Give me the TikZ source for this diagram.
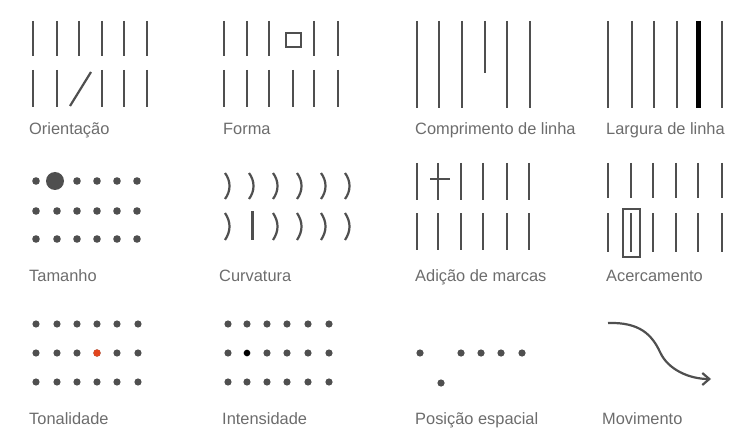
\documentclass[tikz,border=0pt]{standalone}
\usepackage{fontspec}
\setmainfont{Liberation Sans}
\usetikzlibrary{arrows.meta}
\definecolor{ink}{HTML}{4F4F4F}
\definecolor{labelgray}{HTML}{6C6C6C}
\definecolor{hue}{HTML}{E2451E}

\begin{document}
\begin{tikzpicture}[x=1pt, y=-1pt,
    vbar/.style={draw=ink, line width=2.2pt},
    spot/.style={fill=ink},
    tag/.style={anchor=base west, inner sep=0pt, text=labelgray, font=\fontsize{16.4}{19}\selectfont}]
    \useasboundingbox (0,0) rectangle (750,441);

    % Orientacao
    \foreach \x in {33,57,79,102,124,147} \draw[vbar] (\x,21) -- (\x,56);
    \foreach \x in {33,57,102,124,147} \draw[vbar] (\x,70) -- (\x,107);
    \draw[vbar] (70,106) -- (91,72);
    \node (orient) [tag] at (29,135) {Orientação};

    % Forma
    \foreach \x in {224,247,269,314,338} \draw[vbar] (\x,21) -- (\x,56);
    \draw[vbar, line width=1.8pt] (286,33) rectangle (301,47);
    \foreach \x in {224,247,269,293,314,338} \draw[vbar] (\x,70) -- (\x,107);
    \node (forma) [tag] at (223,135) {Forma};

    % Comprimento de linha
    \foreach \x in {417,439,462,507,530} \draw[vbar] (\x,21) -- (\x,108);
    \draw[vbar] (485,21) -- (485,73);
    \node (compr) [tag] at (415,135) {Comprimento de linha};

    % Largura de linha
    \foreach \x in {608,632,654,677,722} \draw[vbar] (\x,21) -- (\x,108);
    \draw[vbar, draw=black, line width=5pt] (698,21) -- (698,108);
    \node (largura) [tag] at (606,135) {Largura de linha};

    % Tamanho
    \foreach \y in {181,211,239}
        \foreach \x in {36,57,77,97,117,137}
            \fill[spot] (\x,\y) circle (3.8);
    \fill[white] (57,181) circle (4.5);
    \fill[spot] (55,181) circle (9);
    \node (tamanho) [tag] at (29,281) {Tamanho};

    % Curvatura
    \foreach \x in {225,249,273,297,321,345}
        \draw[vbar] (\x,173) .. controls (\x+6,181) and (\x+6,191) .. (\x,199);
    \foreach \x in {225,273,297,321,345}
        \draw[vbar] (\x,213) .. controls (\x+6,222) and (\x+6,231) .. (\x,240);
    \draw[vbar] (252.5,211) -- (252.5,240);
    \node (curv) [tag] at (219,281) {Curvatura};

    % Adicao de marcas
    \foreach \x in {417,438,461,483,507,529} {
        \draw[vbar] (\x,163) -- (\x,200);
        \draw[vbar] (\x,213) -- (\x,250);
    }
    \draw[vbar] (430,179) -- (450,179);
    \node (adicao) [tag] at (415,281) {Adição de marcas};

    % Acercamento
    \foreach \x in {608,631,653,676,698,722} {
        \draw[vbar] (\x,163) -- (\x,198);
        \draw[vbar] (\x,213) -- (\x,252);
    }
    \draw[vbar, line width=1.8pt] (623,209) rectangle (640,257);
    \node (acerc) [tag] at (606,281) {Acercamento};

    % Tonalidade
    \foreach \y in {324,353,382}
        \foreach \x in {36,57,77,97,117,138}
            \fill[spot] (\x,\y) circle (3.6);
    \fill[hue] (97,353) circle (3.7);
    \node (tonal) [tag] at (29,424) {Tonalidade};

    % Intensidade
    \foreach \y in {324,353,382}
        \foreach \x in {228,247,267,287,308,329}
            \fill[spot] (\x,\y) circle (3.6);
    \fill[white] (247,353) circle (3.8);
    \fill[black] (247,353) circle (3.3);
    \node (intens) [tag] at (222,424) {Intensidade};

    % Posicao espacial
    \foreach \x in {420,461,481,501,522} \fill[spot] (\x,353) circle (3.6);
    \fill[spot] (441,383) circle (3.6);
    \node (posicao) [tag] at (415,424) {Posição espacial};

    % Movimento
    \draw[vbar, -{Straight Barb[length=7pt, width=12pt]}]
        (608,323) .. controls (640,322) and (652,335) .. (660,352)
        .. controls (668,370) and (690,379) .. (711,379);
    \node (movim) [tag] at (602,424) {Movimento};
\end{tikzpicture}
\end{document}
